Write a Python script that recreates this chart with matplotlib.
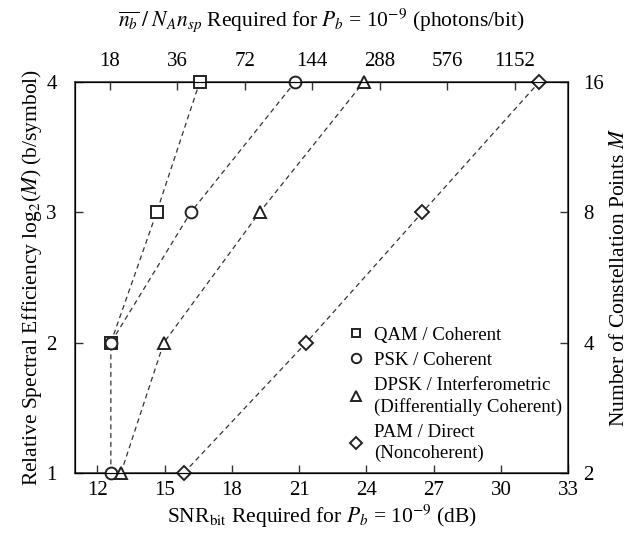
import matplotlib
matplotlib.use("Agg")
import matplotlib.pyplot as plt
import numpy as np

plt.rcParams['font.family'] = ['Liberation Serif', 'DejaVu Serif']
plt.rcParams['mathtext.fontset'] = 'stix'

# bits per symbol (log2 M)
bps_psk = [1, 2, 3, 4]
bps_qam = [2, 3, 4]
bps_dpsk = [1, 2, 3, 4]
bps_pam = [1, 2, 3, 4]

# SNR_bit required for Pb = 1e-9 (dB)
snr_qam = [12.6, 14.64, 16.56]
snr_psk = [12.6, 12.6, 16.16, 20.81]
snr_dpsk = [13.05, 14.96, 19.23, 23.87]
snr_pam = [15.85, 21.31, 26.49, 31.70]

bottom_ticks = [12, 15, 18, 21, 24, 27, 30, 33]
photon_ticks = [18, 36, 72, 144, 288, 576, 1152]
m_ticks = [2, 4, 8, 16]

fig = plt.figure(figsize=(6.3, 5.37), dpi=100)
ax = fig.add_axes([0.119, 0.119, 0.783, 0.728])

mk = dict(markerfacecolor='white', markeredgecolor='#222222', markeredgewidth=1.4,
          clip_on=False, zorder=5)
ln = dict(color='#333333', linestyle=(0, (4, 3)), linewidth=0.9)

ax.plot(snr_qam, bps_qam, marker='s', markersize=8, label='QAM / Coherent', **ln, **mk)
ax.plot(snr_psk, bps_psk, marker='o', markersize=8.5, label='PSK / Coherent', **ln, **mk)
ax.plot(snr_dpsk, bps_dpsk, marker='^', markersize=8.5,
        label='DPSK / Interferometric\n(Differentially Coherent)', **ln, **mk)
ax.plot(snr_pam, bps_pam, marker='D', markersize=7.5,
        label='PAM / Direct\n(Noncoherent)', **ln, **mk)

ax.set_xlim(11, 33)
ax.set_ylim(1, 4)
ax.set_xticks(bottom_ticks)
ax.set_yticks([1, 2, 3, 4])
ax.tick_params(direction='in', length=6, width=1, labelsize=15, color='#333333')
ax.tick_params(axis='x', pad=6)
ax.tick_params(axis='y', pad=13)
for s in ax.spines.values():
    s.set_color('#444444')
    s.set_linewidth(1.2)

ax.set_xlabel(r'SNR$_\mathrm{bit}$ Required for $P_b$ = 10$^{-9}$ (dB)', fontsize=15.5, labelpad=2)
ax.set_ylabel(r'Relative Spectral Efficiency log$_2$($M$) (b/symbol)', fontsize=15.5, labelpad=2)

top = ax.twiny()
top.set_xlim(ax.get_xlim())
top.set_xticks(10 * np.log10(photon_ticks))
top.set_xticklabels([str(v) for v in photon_ticks])
top.tick_params(direction='in', length=6, width=1, labelsize=15, pad=8, color='#333333')
top.set_xlabel(r'$\overline{n_b}\;/\;N_A n_{sp}$ Required for $P_b$ = 10$^{-9}$ (photons/bit)',
               fontsize=15.5, labelpad=19)

right = ax.twinx()
right.set_ylim(ax.get_ylim())
right.set_yticks(np.log2(m_ticks))
right.set_yticklabels([str(v) for v in m_ticks])
right.tick_params(direction='in', length=6, width=1, labelsize=15, pad=11, color='#333333')
right.set_ylabel(r'Number of Constellation Points $M$', fontsize=15.5, labelpad=4)

leg = ax.legend(loc='lower right', bbox_to_anchor=(1.01, 0.0), frameon=False, fontsize=13.5,
                handlelength=0.7, handletextpad=0.6, labelspacing=0.42, markerscale=0.8,
                borderaxespad=0.2)
for h in leg.legend_handles:
    h.set_linestyle('none')
for t in leg.get_texts():
    t.set_linespacing(1.3)

fig.savefig('out.png', dpi=100)
